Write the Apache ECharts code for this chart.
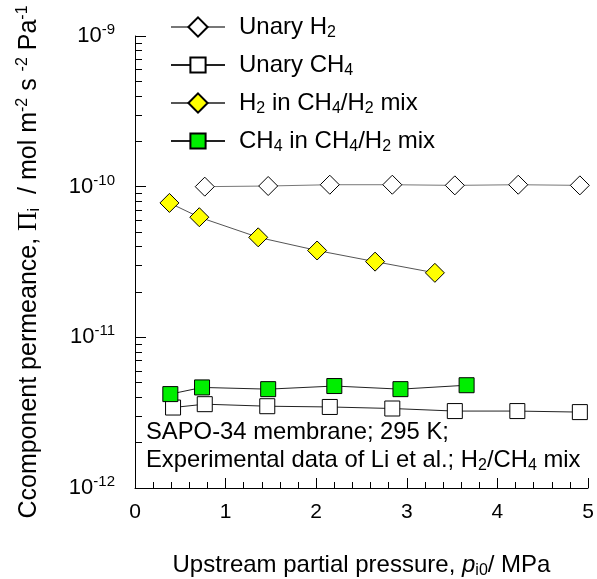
<!DOCTYPE html>
<html>
<head>
<meta charset="utf-8">
<script src="https://cdn.jsdelivr.net/npm/echarts@6/dist/echarts.min.js"></script>
<style>
  html, body { margin: 0; padding: 0; background: #fff; }
  #chart { width: 597px; height: 579px; }
</style>
</head>
<body>
<div id="chart"></div>
<script>
// Upstream partial pressure (MPa) and component permeance (mol m^-2 s^-1 Pa^-1)
const unaryH2_p   = [0.77, 1.47, 2.15, 2.84, 3.53, 4.23, 4.91];
const unaryH2_v   = [1.00e-10, 1.01e-10, 1.03e-10, 1.03e-10, 1.02e-10, 1.03e-10, 1.02e-10];

const unaryCH4_p  = [0.42, 0.77, 1.46, 2.15, 2.84, 3.53, 4.22, 4.91];
const unaryCH4_v  = [3.42e-12, 3.60e-12, 3.49e-12, 3.45e-12, 3.37e-12, 3.24e-12, 3.24e-12, 3.19e-12];

const mixH2_p     = [0.38, 0.71, 1.36, 2.01, 2.65, 3.31];
const mixH2_v     = [7.8e-11, 6.27e-11, 4.61e-11, 3.77e-11, 3.18e-11, 2.68e-11];

const mixCH4_p    = [0.39, 0.74, 1.47, 2.20, 2.93, 3.66];
const mixCH4_v    = [4.20e-12, 4.65e-12, 4.53e-12, 4.75e-12, 4.53e-12, 4.81e-12];

const seriesNames  = ['Unary H2', 'Unary CH4', 'H2 in CH4/H2 mix', 'CH4 in CH4/H2 mix'];
const legendLabels = ['Unary H{sub|2}', 'Unary CH{sub|4}', 'H{sub|2} in CH{sub|4}/H{sub|2} mix', 'CH{sub|4} in CH{sub|4}/H{sub|2} mix'];

// minor ticks of the log axis at 2..9 within each decade
const yMinorTicks = [];
for (let e = -12; e < -9; e++) {
  for (let m = 2; m <= 9; m++) yMinorTicks.push(m * Math.pow(10, e));
}

const FONT = 'Liberation Sans, Arial, sans-serif';

function pairs(xs, ys) { return xs.map((x, i) => [x, ys[i]]); }

const subStyle = { fontSize: 16, lineHeight: 16, padding: [12, 0, 0, 0], color: '#000' };

const legendItemH = [24, 19, 24, 19];
const legends = seriesNames.map((n, i) => ({
  data: [n],
  left: 170,
  top: 13 + 38 * i,
  padding: 0,
  itemWidth: 54,
  itemHeight: legendItemH[i],
  selectedMode: false,
  formatter: () => legendLabels[i],
  textStyle: { fontSize: 24, color: '#000', lineHeight: 28, padding: [0, 0, 0, 9], rich: { sub: subStyle } }
}));

const chart = echarts.init(document.getElementById('chart'));

const option = {
  backgroundColor: '#fff',
  animation: false,
  textStyle: { fontFamily: FONT },
  grid: { left: 135, right: 9, top: 36, bottom: 91, containLabel: false, outerBoundsMode: 'none' },
  legend: legends,
  xAxis: {
    type: 'value', min: 0, max: 5, interval: 1,
    axisLine: { show: true, onZero: false, lineStyle: { color: '#000', width: 1 } },
    axisTick: { show: true, inside: true, length: 10, lineStyle: { color: '#000', width: 1 } },
    minorTick: { show: true, splitNumber: 5, length: 6, lineStyle: { color: '#000', width: 1 } },
    axisLabel: { fontSize: 21, color: '#000', margin: 14 },
    splitLine: { show: false }
  },
  yAxis: [
    {
      type: 'log', logBase: 10, min: 1e-12, max: 1e-9, position: 'left',
      axisLine: { show: true, lineStyle: { color: '#000', width: 1 } },
      axisTick: { show: true, inside: true, length: 11, lineStyle: { color: '#000', width: 1 } },
      axisLabel: {
        fontSize: 22, color: '#000', margin: 20, lineHeight: 27,
        formatter: v => '10{sup|' + Math.round(Math.log10(v)) + '}',
        rich: { sup: { fontSize: 15, lineHeight: 15, padding: [0, 0, 12, 0], color: '#000' } }
      },
      splitLine: { show: false }
    },
    {
      type: 'log', logBase: 10, min: 1e-12, max: 1e-9, position: 'left',
      axisLine: { show: false },
      axisTick: { show: true, inside: true, length: 7, customValues: yMinorTicks, lineStyle: { color: '#000', width: 1 } },
      axisLabel: { show: false },
      splitLine: { show: false }
    }
  ],
  graphic: [
    {
      type: 'text',
      x: 29, y: 262,
      rotation: Math.PI / 2,
      silent: true,
      style: {
        text: 'Ccomponent permeance, {pi|Π}{sub|i}  / mol m{sup|-2} s {sup|-2} Pa{sup|-1}',
        align: 'center', verticalAlign: 'middle',
        fontSize: 25, lineHeight: 28, fill: '#000',
        rich: {
          pi: { fontFamily: 'Liberation Serif', fontSize: 27, fill: '#000' },
          sub: { fontSize: 16, lineHeight: 16, padding: [12, 0, 0, 0], fill: '#000' },
          sup: { fontSize: 16, lineHeight: 16, padding: [0, 0, 12, 0], fill: '#000' }
        }
      }
    },
    {
      type: 'text',
      x: 361.5, y: 565,
      silent: true,
      style: {
        text: 'Upstream partial pressure, {it|p}{sub|i0}/ MPa',
        align: 'center', verticalAlign: 'middle',
        fontSize: 24, lineHeight: 28, fill: '#000',
        rich: {
          it: { fontSize: 24, fontStyle: 'italic', fill: '#000' },
          sub: { fontSize: 16, lineHeight: 16, padding: [12, 0, 0, 0], fill: '#000' }
        }
      }
    },
    {
      type: 'text',
      left: 146,
      top: 418,
      silent: true,
      style: {
        text: 'SAPO-34 membrane; 295 K;\nExperimental data of Li et al.; H{sub|2}/CH{sub|4} mix',
        fontSize: 23.8, lineHeight: 28, fill: '#000',
        rich: { sub: { fontSize: 16, lineHeight: 16, padding: [12, 0, 0, 0], fill: '#000' } }
      }
    }
  ],
  series: [
    {
      name: seriesNames[0], type: 'line', yAxisIndex: 0,
      data: pairs(unaryH2_p, unaryH2_v),
      symbol: 'diamond', symbolSize: 19,
      itemStyle: { color: '#ffffff', borderColor: '#000', borderWidth: 1 },
      lineStyle: { color: '#777', width: 1 },
      emphasis: { disabled: true }, z: 3
    },
    {
      name: seriesNames[1], type: 'line', yAxisIndex: 0,
      data: pairs(unaryCH4_p, unaryCH4_v),
      symbol: 'rect', symbolSize: 15,
      itemStyle: { color: '#ffffff', borderColor: '#000', borderWidth: 1 },
      lineStyle: { color: '#222', width: 1 },
      emphasis: { disabled: true }, z: 3
    },
    {
      name: seriesNames[2], type: 'line', yAxisIndex: 0,
      data: pairs(mixH2_p, mixH2_v),
      symbol: 'diamond', symbolSize: 19,
      itemStyle: { color: '#ffff00', borderColor: '#000', borderWidth: 1 },
      lineStyle: { color: '#555', width: 1 },
      emphasis: { disabled: true }, z: 3
    },
    {
      name: seriesNames[3], type: 'line', yAxisIndex: 0,
      data: pairs(mixCH4_p, mixCH4_v),
      symbol: 'rect', symbolSize: 15,
      itemStyle: { color: '#00ee00', borderColor: '#000', borderWidth: 1 },
      lineStyle: { color: '#222', width: 1 },
      emphasis: { disabled: true }, z: 3
    }
  ]
};

chart.setOption(option);
</script>
</body>
</html>
